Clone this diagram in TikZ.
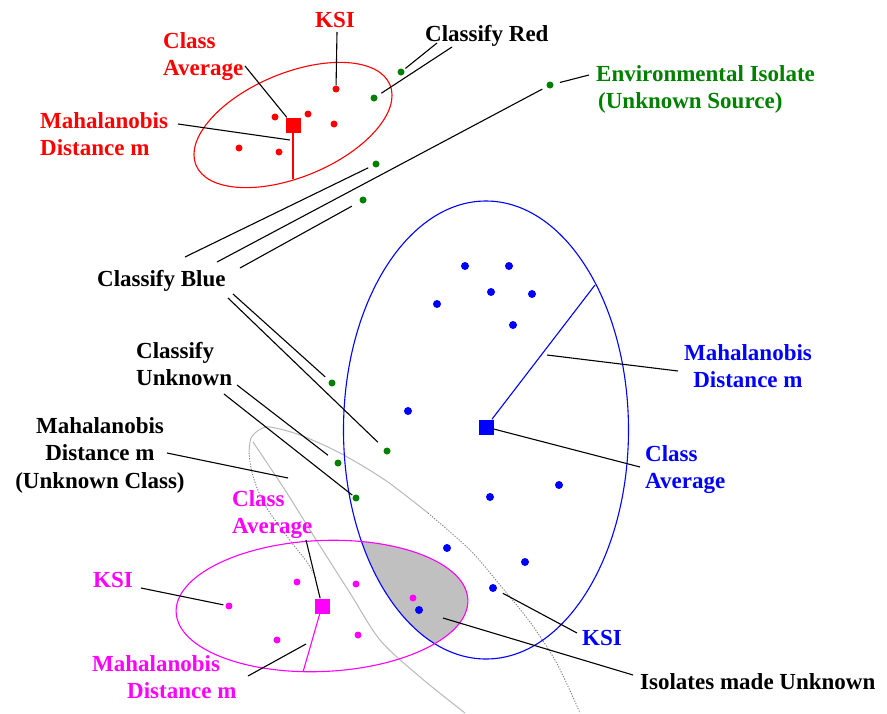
\documentclass[tikz,border=0pt]{standalone}
\usepackage{fontspec}
\setmainfont{Liberation Serif}
\definecolor{dgreen}{RGB}{0,128,0}
\definecolor{overlapgray}{RGB}{192,192,192}
\definecolor{mag}{RGB}{255,0,255}
\definecolor{lgray}{RGB}{185,185,185}
\definecolor{mgray}{RGB}{125,125,125}
\newcommand\lblfont{\fontsize{23}{27.5}\selectfont\bfseries}
\begin{document}
\begin{tikzpicture}[x=1pt,y=-1pt,
  pt/.style={circle,inner sep=0pt,minimum size=7pt},
  rpt/.style={pt,fill=red},
  gpt/.style={pt,fill=dgreen},
  bpt/.style={pt,fill=blue,minimum size=8pt},
  mpt/.style={pt,fill=mag},
  sqr/.style={rectangle,inner sep=0pt,minimum size=15pt},
  lbl/.style={inner sep=0pt,font=\lblfont,align=left,anchor=north west},
  ptr/.style={black,line width=1.1pt},
  rim/.style={line width=1.1pt},
  ghost/.style={lgray,line width=1pt},
  ghostdot/.style={mgray,line width=0.9pt,dash pattern=on 1.2pt off 1.5pt}
]
\useasboundingbox (0,0) rectangle (887,713);
\fill[white] (0,0) rectangle (887,713);

% overlap of the blue and magenta classes
\begin{scope}
  \clip (486,430) ellipse [x radius=142.5pt, y radius=229pt];
  \fill[overlapgray, rotate around={2.5:(322,606)}] (322,606) ellipse [x radius=146pt, y radius=65.5pt];
\end{scope}

% unknown class outline and its distance line
\draw[ghostdot] plot[smooth] coordinates {(316,578) (307,562) (292,543) (268,510) (257,488) (251,468) (249,452)};
\draw[ghost] plot[smooth] coordinates {(249,452) (251,438) (259,430) (270,427) (300,435) (340,453) (385,480) (428,513)};
\draw[ghostdot] plot[smooth] coordinates {(428,513) (470,550) (500,585) (530,622) (555,660) (572,695) (580,713)};
\draw[ghost] plot[smooth] coordinates {(253,442) (285,490) (315,538) (350,593) (380,640) (420,677) (465,713)};

% class ellipses
\draw[red, rim, rotate around={22.5:(293,125)}] (293,125) ellipse [x radius=105pt, y radius=52pt];
\draw[blue, rim] (486,430) ellipse [x radius=142.5pt, y radius=229pt];
\draw[mag, rim, rotate around={2.5:(322,606)}] (322,606) ellipse [x radius=146pt, y radius=65.5pt];

% class averages
\node[sqr, fill=red] (rsq) at (293,125) {};
\node[sqr, fill=blue] (bsq) at (486,427) {};
\node[sqr, fill=mag] (msq) at (322,606) {};

% rim points of the distance lines
\coordinate (rrim) at (293,179);
\coordinate (brim) at (595,285);
\coordinate (mrim) at (303,672);
\draw[red, line width=1.1pt] (rsq) -- (rrim);
\draw[blue, line width=1.1pt] (bsq) -- (brim);
\draw[mag, line width=1.1pt] (msq) -- (mrim);

% red isolates
\node[rpt] (r1) at (336,89) {};
\node[rpt] (r2) at (275,117) {};
\node[rpt] (r3) at (308,114) {};
\node[rpt] (r4) at (334,124) {};
\node[rpt] (r5) at (239,148) {};
\node[rpt] (r6) at (279,152) {};

% blue isolates
\node[bpt] (b1) at (465,266) {};
\node[bpt] (b2) at (509,266) {};
\node[bpt] (b3) at (491,292) {};
\node[bpt] (b4) at (532,294) {};
\node[bpt] (b5) at (437,304) {};
\node[bpt] (b6) at (513,325) {};
\node[bpt] (b7) at (408,411) {};
\node[bpt] (b8) at (490,497) {};
\node[bpt] (b9) at (559,485) {};
\node[bpt] (b10) at (447,548) {};
\node[bpt] (b11) at (525,562) {};
\node[bpt] (b12) at (493,588) {};
\node[bpt] (b13) at (419,610) {};

% magenta isolates
\node[mpt] (m1) at (297,582) {};
\node[mpt] (m2) at (356,584) {};
\node[mpt] (m3) at (229,606) {};
\node[mpt] (m4) at (277,640) {};
\node[mpt] (m5) at (358,635) {};
\node[mpt] (m6) at (413,598) {};

% environmental isolates
\node[gpt] (g1) at (401,72) {};
\node[gpt] (g2) at (374,98) {};
\node[gpt] (g3) at (550,85) {};
\node[gpt] (g4) at (376,164) {};
\node[gpt] (g5) at (363,200) {};
\node[gpt] (g6) at (332,383) {};
\node[gpt] (g7) at (387,451) {};
\node[gpt] (g8) at (338,463) {};
\node[gpt] (g9) at (356,498) {};

% labels
\node[lbl, red, anchor=north] (rksi) at (335,12) {KSI};
\node[lbl, red] (rca) at (163,32) {Class\\Average};
\node[lbl, red] (rmd) at (40,112) {Mahalanobis\\Distance m};
\node[lbl] (cred) at (425,25) {Classify Red};
\node[lbl, dgreen] (env) at (596,65) {Environmental Isolate\\\hspace*{2pt}(Unknown Source)};
\node[lbl] (cblue) at (97,270) {Classify Blue};
\node[lbl] (cunk) at (136,342) {Classify\\Unknown};
\node[lbl, align=center, anchor=north] (umd) at (100,417) {Mahalanobis\\Distance m\\(Unknown Class)};
\node[lbl, blue, align=center, anchor=north] (bmd) at (748,344) {Mahalanobis\\Distance m};
\node[lbl, blue] (bca) at (645,445) {Class\\Average};
\node[lbl, blue] (bksi) at (582,630) {KSI};
\node[lbl] (iso) at (640,673) {Isolates made Unknown};
\node[lbl, mag] (mca) at (232,490) {Class\\Average};
\node[lbl, mag] (mksi) at (93,572) {KSI};
\node[lbl, mag] (mmd) at (92,655) {Mahalanobis\\\hspace*{35pt}Distance m};

% label ends of the pointers
\coordinate (p1) at (337,32);
\coordinate (p2) at (245,66);
\coordinate (p3) at (178,124);
\coordinate (p3e) at (290,140);
\coordinate (p4) at (437,43);
\coordinate (p5) at (452,47);
\coordinate (p6) at (589,75);
\coordinate (p7) at (185,257);
\coordinate (p8) at (217,262);
\coordinate (p9) at (240,268);
\coordinate (p10) at (233,294);
\coordinate (p11) at (228,298);
\coordinate (p12) at (237,385);
\coordinate (p13) at (224,394);
\coordinate (p14) at (167,453);
\coordinate (p14e) at (288,478);
\coordinate (p15) at (678,371);
\coordinate (p15e) at (547,355);
\coordinate (p16) at (640,467);
\coordinate (p17) at (577,633);
\coordinate (p18) at (633,675);
\coordinate (p18e) at (443,618);
\coordinate (p19) at (141,588);
\coordinate (p20) at (306,540);
\coordinate (p21) at (248,676);
\coordinate (p21e) at (306,644);

% pointers
\draw[ptr] (p1) -- (r1);
\draw[ptr] (p2) -- (rsq);
\draw[ptr] (p3) -- (p3e);
\draw[ptr, shorten >=2pt] (p4) -- (g1);
\draw[ptr, shorten >=5pt] (p5) -- (g2);
\draw[ptr, shorten >=6.5pt] (p6) -- (g3);
\draw[ptr, shorten >=5pt] (p7) -- (g4);
\draw[ptr, shorten >=5pt] (p8) -- (g3);
\draw[ptr, shorten >=9pt] (p9) -- (g5);
\draw[ptr, shorten >=5.5pt] (p10) -- (g6);
\draw[ptr, shorten >=9pt] (p11) -- (g7);
\draw[ptr, shorten >=9pt] (p12) -- (g8);
\draw[ptr, shorten >=1pt] (p13) -- (g9);
\draw[ptr] (p14) -- (p14e);
\draw[ptr] (p15) -- (p15e);
\draw[ptr] (p16) -- (bsq);
\draw[ptr, shorten >=7pt] (p17) -- (b12);
\draw[ptr] (p18) -- (p18e);
\draw[ptr, shorten >=2pt] (p19) -- (m3);
\draw[ptr] (p20) -- (msq);
\draw[ptr] (p21) -- (p21e);
\end{tikzpicture}
\end{document}
